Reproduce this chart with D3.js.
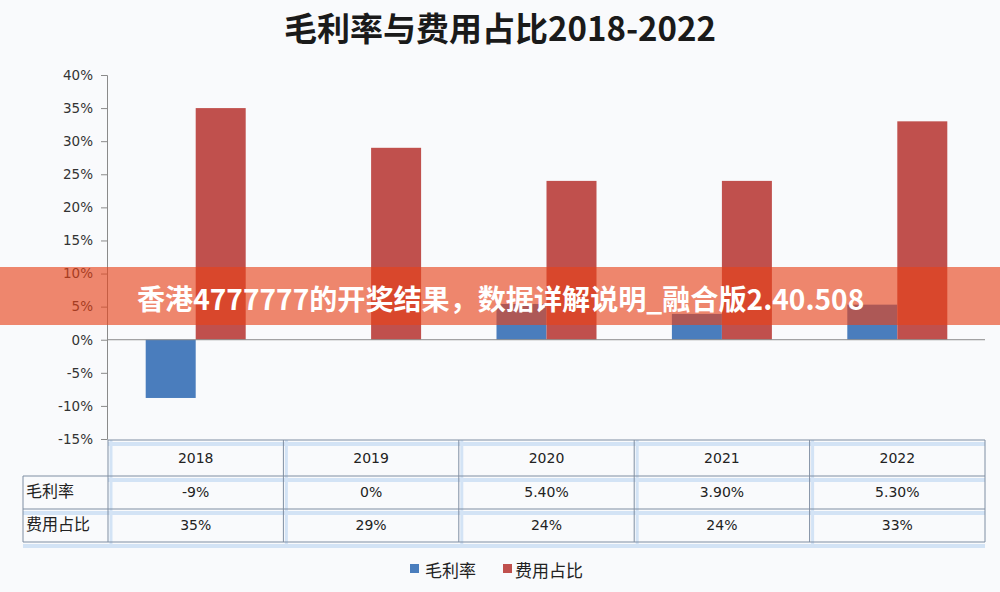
<!DOCTYPE html>
<html><head><meta charset="utf-8">
<script src="https://cdn.jsdelivr.net/npm/d3@7"></script>
<style>html,body{margin:0;padding:0;background:#f9fafc;}svg{display:block;}</style>
</head><body>
<script>
const years = ["2018","2019","2020","2021","2022"];
const grossMargin = [-8.8, 0, 5.4, 3.9, 5.3];
const expenseRatio = [35, 29, 24, 24, 33];
const grossLabels = ["-9%","0%","5.40%","3.90%","5.30%"];
const expenseLabels = ["35%","29%","24%","24%","33%"];
const seriesNames = ["毛利率","费用占比"];
const yTicks = [-15,-10,-5,0,5,10,15,20,25,30,35,40];
const title = "毛利率与费用占比2018-2022";
const banner = "香港4777777的开奖结果，数据详解说明_融合版2.40.508";

const W=1000,H=592;
const colors=["#4a7dbd","#c0504d"];
const font='"Noto Sans CJK SC","Noto Sans",sans-serif';
const numFont='"DejaVu Sans",sans-serif';
const svg=d3.select("body").append("svg").attr("width",W).attr("height",H);
svg.append("rect").attr("width",W).attr("height",H).attr("fill","#f9fafc");

const x=d3.scaleBand().domain(years).range([108,985]);
const y=d3.scaleLinear().domain([-15,40]).range([439,75]);

svg.append("text").attr("x",500).attr("y",41).attr("text-anchor","middle")
  .attr("font-family",font).attr("font-weight","bold").attr("font-size",33).attr("fill","#1a1a1a").text(title);

// y axis
const ax=svg.append("g").attr("transform","translate(107,0)")
  .call(d3.axisLeft(y).tickValues(yTicks).tickSize(6).tickPadding(8).tickFormat(d=>d+"%"));
ax.select(".domain").attr("stroke","#8a8a8a");
ax.selectAll(".tick line").attr("stroke","#8a8a8a");
ax.selectAll(".tick text").attr("font-family",numFont).attr("font-size",13.5).attr("fill","#333");

// bars
const bw=50;
const g=svg.append("g");
years.forEach((yr,i)=>{
  const c=x(yr)+x.bandwidth()/2;
  const v1=grossMargin[i], v2=expenseRatio[i];
  if(v1!==0) g.append("rect").attr("x",c-bw).attr("width",bw)
    .attr("y",y(Math.max(0,v1))).attr("height",Math.abs(y(v1)-y(0))).attr("fill",colors[0]);
  g.append("rect").attr("x",c).attr("width",bw)
    .attr("y",y(Math.max(0,v2))).attr("height",Math.abs(y(v2)-y(0))).attr("fill",colors[1]);
});
// zero line
svg.append("line").attr("x1",107).attr("x2",985).attr("y1",y(0)).attr("y2",y(0)).attr("stroke","#8a8a8a");

// table
const rowsY=[440,476,509,542];
const tg=svg.append("g");
const glow="#d3e3f5";
rowsY.forEach(r=>{
  tg.append("rect").attr("x",108).attr("width",877).attr("y",r+2).attr("height",4).attr("fill",glow);
});
tg.append("rect").attr("x",23).attr("width",85).attr("y",rowsY[3]+2).attr("height",4).attr("fill",glow);
tg.append("rect").attr("x",23).attr("width",85).attr("y",rowsY[2]+2).attr("height",4).attr("fill",glow);
years.forEach(yr=>{
  tg.append("rect").attr("x",x(yr)+1.5).attr("width",3).attr("y",440).attr("height",108).attr("fill",glow);
});
const lc="#7f8ea3";
tg.append("line").attr("x1",108).attr("x2",985).attr("y1",440).attr("y2",440).attr("stroke",lc);
[476,509,542].forEach(r=>tg.append("line").attr("x1",23).attr("x2",985).attr("y1",r).attr("y2",r).attr("stroke",lc));
tg.append("line").attr("x1",23).attr("x2",23).attr("y1",476).attr("y2",542).attr("stroke",lc);
years.forEach(yr=>tg.append("line").attr("x1",x(yr)).attr("x2",x(yr)).attr("y1",440).attr("y2",542).attr("stroke",lc));
tg.append("line").attr("x1",985).attr("x2",985).attr("y1",440).attr("y2",542).attr("stroke",lc);

const cellText=(tx,ty,t,anchor,size,f)=>tg.append("text").attr("x",tx).attr("y",ty).attr("text-anchor",anchor)
  .attr("font-family",f).attr("font-size",size).attr("fill","#222").attr("dominant-baseline","central").text(t);
years.forEach((yr,i)=>{
  const c=x(yr)+x.bandwidth()/2;
  cellText(c,458,yr,"middle",14,numFont);
  cellText(c,492,grossLabels[i],"middle",14,numFont);
  cellText(c,525,expenseLabels[i],"middle",14,numFont);
});
cellText(26,490,seriesNames[0],"start",16,font);
cellText(26,523,seriesNames[1],"start",16,font);

// legend
const lg=svg.append("g");
[[410,425],[503,515]].forEach((p,i)=>{
  lg.append("rect").attr("x",p[0]).attr("y",564).attr("width",9).attr("height",9).attr("fill",colors[i]);
  lg.append("text").attr("x",p[1]).attr("y",569).attr("dominant-baseline","central")
    .attr("font-family",font).attr("font-size",17).attr("fill","#222").text(seriesNames[i]);
});

// banner overlay
svg.append("rect").attr("x",0).attr("y",267).attr("width",W).attr("height",58).attr("fill","rgba(231,66,26,0.63)");
svg.append("text").attr("x",137).attr("y",297).attr("dominant-baseline","central")
  .attr("font-family",font).attr("font-weight","bold").attr("font-size",28.1).attr("fill","#fff").text(banner);
</script>
</body></html>
